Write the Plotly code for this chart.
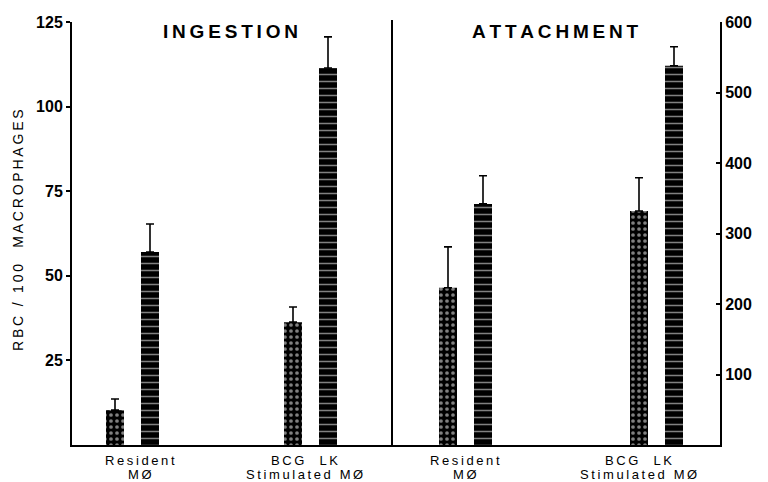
import plotly.graph_objects as go

# ---- data ----
group_lines = [["Resident", "MØ"], ["BCG  LK", "Stimulated MØ"],
               ["Resident", "MØ"], ["BCG  LK", "Stimulated MØ"]]
panels = ["INGESTION", "ATTACHMENT"]

# Ingestion (left axis, RBC / 100 macrophages)
ing_hatched = [10.3, 36.3]
ing_hatched_err = [3.3, 4.5]
ing_solid = [57.0, 111.4]
ing_solid_err = [8.3, 9.2]

# Attachment (right axis)
att_hatched = [223, 332]
att_hatched_err = [58, 47]
att_solid = [342, 538]
att_solid_err = [40, 27]

left_ticks = [25, 50, 75, 100, 125]
right_ticks = [100, 200, 300, 400, 500, 600]

# ---- layout positions (x axis in plot units) ----
ing_pos = [133, 311]
att_pos = [466, 657]
label_pos = [140, 304, 465, 638]
title_pos = [230, 555]
BAR_W = 18
H_OFF = -27
S_OFF = 8

FONT = "Liberation Sans"
TS = "\u2009"


def spaced(s, sep=TS):
    return sep.join(list(s))


hatch = dict(color="black", line=dict(color="black", width=0),
             pattern=dict(shape=".", fgcolor="white", bgcolor="black", size=6, solidity=0.3))
stripe = dict(color="black", line=dict(color="black", width=0),
              pattern=dict(shape="-", fgcolor="white", bgcolor="black", size=7, solidity=0.22))


def err(a):
    return dict(type="data", array=a, arrayminus=[0] * len(a), symmetric=False,
                color="black", thickness=1.6, width=4)


fig = go.Figure()
fig.add_bar(x=ing_pos, y=ing_hatched, width=BAR_W, offset=H_OFF, marker=hatch,
            error_y=err(ing_hatched_err), yaxis="y")
fig.add_bar(x=ing_pos, y=ing_solid, width=BAR_W, offset=S_OFF, marker=stripe,
            error_y=err(ing_solid_err), yaxis="y")
fig.add_bar(x=att_pos, y=att_hatched, width=BAR_W, offset=H_OFF, marker=hatch,
            error_y=err(att_hatched_err), yaxis="y2")
fig.add_bar(x=att_pos, y=att_solid, width=BAR_W, offset=S_OFF, marker=stripe,
            error_y=err(att_solid_err), yaxis="y2")

# page body has an 8px margin: size the figure to fit the 768x482 window
fig.update_layout(
    width=760, height=474,
    margin=dict(l=64, r=48, t=14, b=37),
    paper_bgcolor="white", plot_bgcolor="white",
    showlegend=False,
    barmode="overlay",
    font=dict(family=FONT, color="black"),
    xaxis=dict(range=[72, 720], showgrid=False, zeroline=False, automargin=False,
               showline=True, linecolor="black", linewidth=2,
               showticklabels=False, ticks="", fixedrange=True),
    yaxis=dict(range=[0, 125], tickvals=left_ticks, showgrid=False, zeroline=False,
               automargin=False,
               showline=True, linecolor="black", linewidth=2,
               ticks="outside", ticklen=4, tickwidth=2, tickcolor="black",
               tickfont=dict(size=16, family=FONT, weight="bold")),
    yaxis2=dict(range=[0, 600], tickvals=right_ticks, overlaying="y", side="right",
                showgrid=False, zeroline=False, automargin=False,
                showline=True, linecolor="black", linewidth=2,
                ticks="inside", ticklen=4, tickwidth=2, tickcolor="black",
                tickfont=dict(size=16, family=FONT, weight="bold")),
)

PH = 423  # plot height in px; bottom of plot at window row 445


def ypx(py):
    # window pixel row -> paper coordinate
    return (445 - py) / PH


# divider between panels
fig.add_shape(type="line", xref="x", yref="paper", x0=392, x1=392, y0=0, y1=ypx(20),
              line=dict(color="black", width=2))

# panel titles
for name, xc in zip(panels, title_pos):
    fig.add_annotation(text=spaced(name), x=xc, xref="x", y=ypx(31), yref="paper",
                       yanchor="middle", showarrow=False,
                       font=dict(size=19, family=FONT, weight="bold"))

# group labels under the axis
for lines, xc in zip(group_lines, label_pos):
    for i, ln in enumerate(lines):
        fig.add_annotation(text=spaced(ln), x=xc, xref="x", y=ypx(460 + 14 * i),
                           yref="paper", yanchor="middle", showarrow=False,
                           font=dict(size=13, family=FONT))

# y-axis title
fig.add_annotation(text=spaced("RBC / 100  MACROPHAGES"), x=(18 - 72) / 648, xref="paper",
                   xanchor="center", y=ypx(230), yref="paper", yanchor="middle",
                   showarrow=False, textangle=-90, font=dict(size=14, family=FONT))

fig.write_html("out.html")
